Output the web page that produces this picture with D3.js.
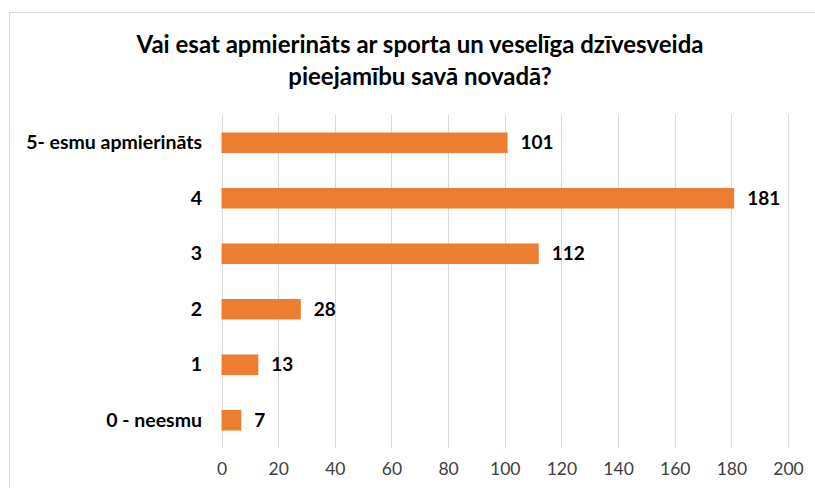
<!DOCTYPE html>
<html>
<head>
<meta charset="utf-8">
<script src="https://cdn.jsdelivr.net/npm/d3@7"></script>
<style>
  body { margin: 0; background: #fff; }
  svg { display: block; font-family: Lato, "Open Sans", sans-serif; }
</style>
</head>
<body>
<div id="chart"></div>
<script>
var categories = ['5- esmu apmierināts', '4', '3', '2', '1', '0 - neesmu'];
var values = [101, 181, 112, 28, 13, 7];
var ticks = [0, 20, 40, 60, 80, 100, 120, 140, 160, 180, 200];
var titleLines = ['Vai esat apmierināts ar sporta un veselīga dzīvesveida', 'pieejamību savā novadā?'];

var width = 815, height = 488;
var margin = {top: 115, left: 221.5, right: 27, bottom: 40};

var svg = d3.select('#chart').append('svg')
    .attr('width', width)
    .attr('height', height);

// chart frame
svg.append('rect')
    .attr('x', 9.5)
    .attr('y', 12.5)
    .attr('width', width)
    .attr('height', height)
    .attr('fill', 'none')
    .attr('stroke', '#d9d9d9')
    .attr('stroke-width', 1);

var x = d3.scaleLinear()
    .domain([0, 200])
    .range([margin.left, width - margin.right]);

var y = d3.scaleBand()
    .domain(categories)
    .range([margin.top, 448])
    .paddingInner(0.63)
    .paddingOuter(0.315);

// gridlines
svg.append('g')
    .attr('class', 'grid')
    .selectAll('line')
    .data(ticks)
    .enter()
    .append('line')
    .attr('x1', function(d) { return Math.round(x(d)) + 0.5; })
    .attr('x2', function(d) { return Math.round(x(d)) + 0.5; })
    .attr('y1', margin.top)
    .attr('y2', 448)
    .attr('stroke', '#d9d9d9')
    .attr('stroke-width', 1);

// x axis labels
var xAxis = d3.axisBottom(x).tickValues(ticks).tickSize(0).tickPadding(0);
var gx = svg.append('g')
    .attr('transform', 'translate(0,' + 475 + ')')
    .call(xAxis);
gx.select('.domain').remove();
gx.selectAll('text')
    .attr('dy', 0)
    .attr('fill', '#404040')
    .style('font-size', '17.5px')
    .style('font-family', 'Lato, "Open Sans", sans-serif');

// category labels
var yAxis = d3.axisLeft(y).tickSize(0).tickPadding(0);
var gy = svg.append('g')
    .attr('transform', 'translate(' + 202 + ',0)')
    .call(yAxis);
gy.select('.domain').remove();
gy.selectAll('text')
    .attr('fill', '#000')
    .style('font-size', '19.5px')
    .style('font-weight', 'bold')
    .style('font-family', 'Lato, "Open Sans", sans-serif');

// bars
svg.append('g')
    .selectAll('rect')
    .data(values)
    .enter()
    .append('rect')
    .attr('x', x(0))
    .attr('y', function(d, i) { return y(categories[i]); })
    .attr('width', function(d) { return x(d) - x(0); })
    .attr('height', y.bandwidth())
    .attr('fill', '#ed7d31');

// value labels
svg.append('g')
    .selectAll('text')
    .data(values)
    .enter()
    .append('text')
    .attr('x', function(d) { return x(d) + 13; })
    .attr('y', function(d, i) { return y(categories[i]) + y.bandwidth() / 2; })
    .attr('dy', '0.35em')
    .attr('fill', '#000')
    .style('font-size', '19px')
    .style('font-weight', 'bold')
    .text(function(d) { return d; });

// title
svg.append('g')
    .selectAll('text')
    .data(titleLines)
    .enter()
    .append('text')
    .attr('x', 420)
    .attr('y', function(d, i) { return 53 + i * 32; })
    .attr('text-anchor', 'middle')
    .attr('fill', '#000')
    .style('font-size', '24px')
    .style('font-weight', 'bold')
    .text(function(d) { return d; });
</script>
</body>
</html>
